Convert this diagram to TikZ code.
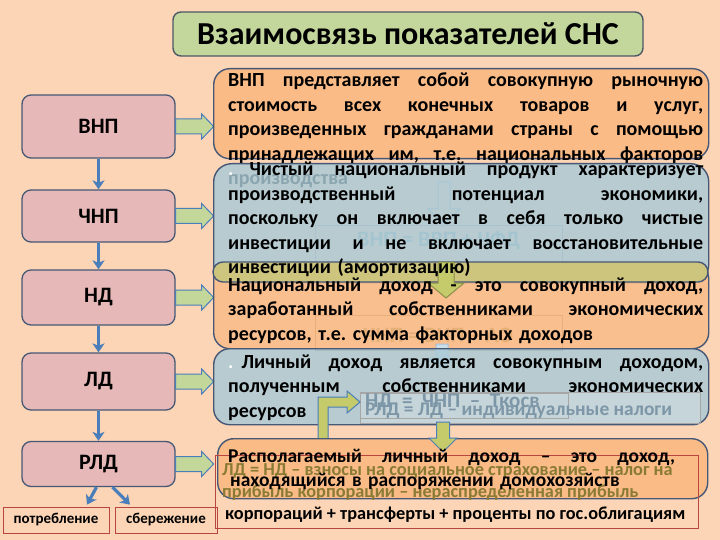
\documentclass[tikz,border=0pt]{standalone}
\usepackage{fontspec}
\setmainfont{Carlito}
\usetikzlibrary{arrows.meta,calc}
\frenchspacing
\newcommand{\fullline}[2][475pt]{\makebox[#1][s]{\spaceskip=0pt\xspaceskip=0pt\relax #2}}

\definecolor{slidebg}{HTML}{FBD5B5}
\definecolor{titlefill}{HTML}{C3D69B}
\definecolor{titleedge}{HTML}{4D5866}
\definecolor{pinkfill}{HTML}{E6B9B8}
\definecolor{edge}{HTML}{465875}
\definecolor{orangefill}{HTML}{FABB87}
\definecolor{bluefill}{HTML}{A9CAD6}
\definecolor{olivefill}{HTML}{CDC47E}
\definecolor{arrowblue}{HTML}{4A7EBB}
\definecolor{arrowgreen}{HTML}{C4D79B}
\definecolor{yellowgreen}{HTML}{C5CB6A}
\definecolor{redline}{HTML}{B8453F}
\definecolor{fadeblue}{HTML}{8FA9BA}
\definecolor{fadetext}{HTML}{7E97A8}
\definecolor{olivetext}{HTML}{8A7B34}
\definecolor{brownframe}{HTML}{9B7A4A}

\begin{document}
\begin{tikzpicture}[x=1pt,y=-1pt,
    lbox/.style={draw=edge,line width=1.3pt,fill=pinkfill,rounded corners=9pt,minimum width=153pt,inner sep=0pt,font=\fontsize{22}{26}\selectfont\bfseries},
    rbox/.style={draw=edge,line width=1.4pt,rounded corners=16pt,inner sep=0pt,anchor=north west},
    body/.style={inner sep=0pt,anchor=base west,align=left,font=\fontsize{20}{24.5}\selectfont\bfseries},
    frm/.style={draw=gray!70,line width=0.6pt,anchor=north west,inner sep=0pt},
    frmtext/.style={inner sep=0pt,anchor=base west,font=\fontsize{22}{26}\selectfont\bfseries},
    redtext/.style={inner sep=0pt,anchor=base west,font=\fontsize{18.3}{22}\selectfont\bfseries},
    smallbox/.style={draw=redline,line width=0.8pt,minimum height=26pt,inner sep=0pt,font=\fontsize{15}{18}\selectfont\bfseries},
    varrow/.style={draw=arrowblue,line width=3.2pt,-{Stealth[length=9pt,width=12pt,inset=2.5pt]}},
    sidearrow/.style={draw=arrowblue,line width=1pt,fill=arrowgreen},
    ygarrow/.style={draw=arrowblue,line width=1pt,fill=yellowgreen}]
  \fill[slidebg] (0,0) rectangle (720,540);
  \useasboundingbox (0,0) rectangle (720,540);

  % title
  \node[draw=titleedge,line width=1.4pt,fill=titlefill,rounded corners=8pt,minimum width=470pt,minimum height=44pt,font=\fontsize{32}{36}\selectfont\bfseries] (title) at (408,34) {Взаимосвязь показателей СНС};

  % left column
  \node[lbox,minimum height=63pt] (vnp) at (98.5,126.5) {ВНП};
  \node[lbox,minimum height=52pt] (chnp) at (98.5,216) {ЧНП};
  \node[lbox,minimum height=55pt] (nd) at (98.5,297.5) {НД};
  \node[lbox,minimum height=57pt] (ld) at (98.5,381.5) {ЛД};
  \node[lbox,minimum height=45pt] (rld) at (98.5,464) {РЛД};
  \node[smallbox,minimum width=106pt] (potr) at (56,520) {потребление};
  \node[smallbox,minimum width=102pt] (sber) at (166,520) {сбережение};
  \foreach \a/\b in {vnp/chnp,chnp/nd,nd/ld,ld/rld}
    \draw[varrow] (\a) -- (\b);
  \draw[varrow] ($(rld.south)+(-2,0)$) -- ($(potr.north)+(31,-2)$);
  \draw[varrow] ($(rld.south)+(14,0)$) -- ($(sber.north)+(-36,-2)$);
  \foreach \b in {vnp,chnp,nd,ld,rld}
    \draw[sidearrow] (\b.east) ++(0,-7.5) -- ++(26,0) -- ++(0,-5) -- ++(12,12.5) -- ++(-12,12.5) -- ++(0,-5) -- ++(-26,0) -- cycle;

  % GNP
  \node[rbox,fill=orangefill,minimum width=495pt,minimum height=90pt] (vnpR) at (213,68) {};
  \node[body,text width=475pt] (vnpT) at (228,87) {\fullline{ВНП представляет собой совокупную рыночную}\\
    \fullline{стоимость всех конечных товаров и услуг,}\\
    \fullline{произведенных гражданами страны с помощью}\\
    \fullline{принадлежащих им, т.е. национальных факторов}\\
    производства};
  \node[frm,minimum width=247pt,minimum height=37pt] (frmA) at (315,225) {};
  \node[frmtext,text=fadeblue] at (357,247) {ВНП = ВВП + ЧФД};
  \draw[draw=arrowblue!60,line width=1pt,fill=slidebg] (438,182) -- (450,182) -- (450,209) -- (460,209) -- (444,224) -- (428,209) -- (438,209) -- cycle;

  % NNP
  \node[rbox,fill=bluefill,fill opacity=0.82,rounded corners=18pt,minimum width=495pt,minimum height=119pt] (chnpR) at (213,163) {};
  \node[frm,draw=brownframe,minimum width=247pt,minimum height=35pt] (frmB) at (315,315) {};
  \node[frmtext,text=olivetext] at (363,342) {ЧНП = ВНП – АО};

  % NI
  \node[rbox,fill=orangefill,fill opacity=0.82,minimum width=495pt,minimum height=86pt] (ndR) at (213,262) {};
  \draw[draw=edge,line width=1.4pt,fill=olivefill,rounded corners=10pt] (213,262) rectangle (708,282);
  \draw[ygarrow,draw=yellowgreen!70!black] (438,262) -- (454,262) -- (454,283) -- (464,283) -- (446,298) -- (428,283) -- (438,283) -- cycle;
  \node[body,text width=475pt] (chnpT) at (228,176) {\fullline{\textcolor{white}{.}\hspace{16pt}Чистый национальный продукт характеризует}\\
    \fullline{производственный потенциал экономики,}\\
    \fullline{поскольку он включает в себя только чистые}\\
    \fullline{инвестиции и не включает восстановительные}\\
    инвестиции (амортизацию)};
  \node[body,text width=475pt] (ndT) at (228,291) {\fullline{Национальный доход - это совокупный доход,}\\
    \fullline{заработанный собственниками экономических}\\
    ресурсов, т.е. сумма факторных доходов};

  % PI
  \draw[draw=arrowblue!50,fill=bluefill!60!white,line width=1pt] (436,344) -- (448,344) -- (448,358) -- (455,358) -- (442,368) -- (429,358) -- (436,358) -- cycle;
  \node[rbox,fill=bluefill,fill opacity=0.82,minimum width=495pt,minimum height=76pt] (ldR) at (213,348) {};
  \node[body,text width=475pt] (ldT) at (228,368) {\fullline{\textcolor{white}{.}\hspace{8pt}Личный доход является совокупным доходом,}\\
    \fullline{полученным собственниками экономических}\\
    ресурсов};
  \node[frm,fill=white,fill opacity=0.2,minimum width=340pt,minimum height=31pt] (frmD) at (360,392) {};
  \node[frm,minimum width=208pt,minimum height=25pt] (frmC) at (360,393) {};
  \node[frmtext,text=fadetext,font=\fontsize{21}{24}\selectfont\bfseries] at (365,407) {НД\ \ =\ \ ЧНП\ \ –\ \ Ткосв};
  \node[frmtext,text=fadetext,font=\fontsize{19.4}{24}\selectfont\bfseries] at (365,415) {РЛД = ЛД – индивидуальные налоги};
  \draw[ygarrow] (318,445) -- (318,397) -- (347,397) -- (347,391) -- (360,402) -- (347,413) -- (347,407) -- (328,407) -- (328,445) -- cycle;

  % DPI
  \node[rbox,fill=orangefill,minimum width=490pt,minimum height=60pt] (rldR) at (217,438) {};
  \draw[ygarrow] (436.5,422) -- (449.5,422) -- (449.5,438) -- (457,438) -- (443,452) -- (429,438) -- (436.5,438) -- cycle;
  \node[redtext,text=olivetext] at (222,475) {ЛД = НД – взносы на социальное страхование – налог на};
  \node[redtext,text=olivetext] at (222,497) {прибыль корпорации – нераспределенная прибыль};
  \node[redtext] at (225,519) {корпораций + трансферты + проценты по гос.облигациям};
  \node[draw=redline,line width=0.8pt,anchor=north west,inner sep=0pt,minimum width=483pt,minimum height=73pt] (ldFormula) at (215,455) {};
  \node[body,text width=447pt,font=\fontsize{19.5}{24.5}\selectfont\bfseries] (rldT) at (228,462) {\fullline[447pt]{Располагаемый личный доход – это доход,}\\
    \hspace*{2pt}находящийся в распоряжении домохозяйств};
\end{tikzpicture}
\end{document}
